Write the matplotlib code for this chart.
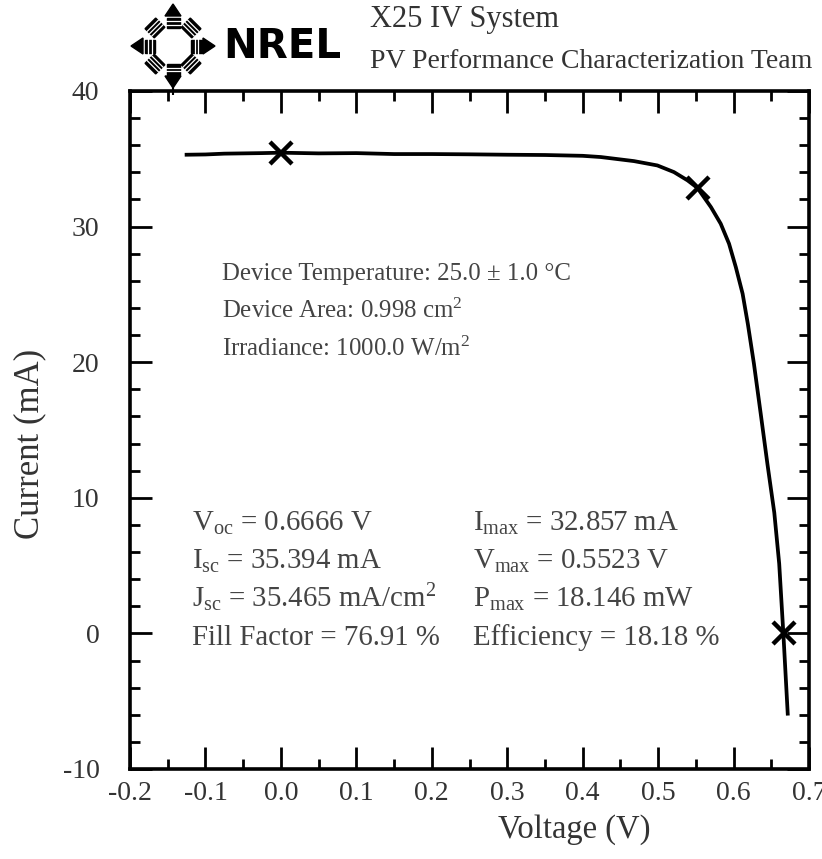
import matplotlib
matplotlib.use("Agg")
import matplotlib.pyplot as plt
from matplotlib.patches import Polygon
from matplotlib.ticker import MultipleLocator
import numpy as np

# ---------- Data ----------
voltage = [-0.125, -0.100, -0.075, -0.050, -0.025, 0.000, 0.050, 0.100, 0.150,
           0.200, 0.250, 0.300, 0.350, 0.400, 0.424, 0.468, 0.499, 0.521,
           0.539, 0.552, 0.570, 0.583, 0.594, 0.603, 0.612, 0.619, 0.627,
           0.636, 0.645, 0.654, 0.6605, 0.666, 0.6718]
current = [35.30, 35.32, 35.38, 35.40, 35.42, 35.45, 35.40, 35.42, 35.35,
           35.35, 35.33, 35.30, 35.28, 35.22, 35.13, 34.83, 34.51, 34.02,
           33.41, 32.86, 31.44, 30.21, 28.74, 27.01, 25.05, 22.80, 19.89,
           16.20, 12.45, 8.90, 5.14, 0.00, -5.92]

markV = [0.0, 0.5523, 0.6666]
markI = [35.394, 32.857, 0.0]

deviceLines = ["Device Temperature: 25.0 \u00b1 1.0 \u00b0C",
               "Device Area: 0.998 cm$\\mathrm{^2}$",
               "Irradiance: 1000.0 W/m$\\mathrm{^2}$"]
leftLines = ["V$\\mathrm{_{oc}}$ = 0.6666 V",
             "I$\\mathrm{_{sc}}$ = 35.394 mA",
             "J$\\mathrm{_{sc}}$ = 35.465 mA/cm$\\mathrm{^2}$",
             "Fill Factor = 76.91 %"]
rightLines = ["I$\\mathrm{_{max}}$ = 32.857 mA",
              "V$\\mathrm{_{max}}$ = 0.5523 V",
              "P$\\mathrm{_{max}}$ = 18.146 mW",
              "Efficiency = 18.18 %"]

# ---------- Style ----------
plt.rcParams['font.family'] = ['Liberation Serif', 'DejaVu Serif']
plt.rcParams['mathtext.fontset'] = 'custom'
plt.rcParams['mathtext.rm'] = 'Liberation Serif'
plt.rcParams['mathtext.it'] = 'Liberation Serif:italic'
plt.rcParams['mathtext.bf'] = 'Liberation Serif:bold'
plt.rcParams['axes.unicode_minus'] = False

W, H = 822, 859
fig = plt.figure(figsize=(W / 100, H / 100), dpi=100)

def px(x, y):
    return x / W, 1 - y / H

ax = fig.add_axes([130 / W, 1 - 769 / H, (809 - 130) / W, (769 - 91) / H])
ax.plot(voltage, current, color='black', lw=2.7)
ax.plot(markV, markI, ls='none', marker='x', color='black', ms=16, mew=3.2)

ax.set_xlim(-0.2, 0.7)
ax.set_ylim(-10, 40)
ax.xaxis.set_minor_locator(MultipleLocator(0.05))
ax.yaxis.set_major_locator(MultipleLocator(10))
ax.yaxis.set_minor_locator(MultipleLocator(2))
ax.set_xticks(np.arange(-0.2, 0.71, 0.1))
ax.set_xticklabels(["%.1f" % v for v in np.arange(-0.2, 0.71, 0.1)])
ax.tick_params(which='both', direction='in', top=True, right=True, width=2,
               labelsize=20, labelcolor='#333333')
ax.tick_params(which='major', length=16)
ax.tick_params(which='minor', length=7.5)
ax.tick_params(axis='x', pad=9)
ax.tick_params(axis='y', pad=22)
for s in ax.spines.values():
    s.set_linewidth(2.6)

# ---------- Text blocks ----------
for i, t in enumerate(deviceLines):
    x, y = px(222, 280 + 38 * i)
    fig.text(x, y, t, fontsize=17.9, color='#444444', va='baseline')
for i, t in enumerate(leftLines):
    x, y = px(192, 531 + 38 * i)
    fig.text(x, y, t, fontsize=20.8, color='#444444', va='baseline')
for i, t in enumerate(rightLines):
    x, y = px(473, 531 + 38 * i)
    fig.text(x, y, t, fontsize=20.8, color='#444444', va='baseline')

x, y = px(574, 830)
fig.text(x, y, "Voltage (V)", fontsize=23.5, color='#333333', ha='center', va='center')
x, y = px(30, 444)
fig.text(x, y, "Current (mA)", fontsize=25, color='#333333', ha='center', va='center',
         rotation=90)

# ---------- Header ----------
x, y = px(370, 20)
fig.text(x, y, "X25 IV System", fontsize=22, color='#333333', va='center')
x, y = px(370, 62)
fig.text(x, y, "PV Performance Characterization Team", fontsize=20, color='#333333',
         va='center')
x, y = px(223, 47)
fig.text(x, y, "NREL", fontsize=29, fontweight='heavy', family='DejaVu Sans',
         color='black', va='center')

# ---------- Logo ring ----------
lax = fig.add_axes([120 / W, 1 - 95 / H, 120 / W, 95 / H])
lax.set_xlim(0, 120)
lax.set_ylim(95, 0)
lax.axis('off')
cx, cy = 53, 46

def toAbs(pts, ang):
    a = np.radians(ang)
    out = []
    for u, r in pts:
        out.append((cx + u * np.cos(a) + r * np.sin(a), cy + u * np.sin(a) - r * np.cos(a)))
    return out

for k in range(8):
    ang = k * 45
    if k % 2 == 0:
        lax.add_patch(Polygon(toAbs([(-8, 30), (8, 30), (0, 42)], ang), color='black'))
        lax.add_patch(Polygon(toAbs([(-6.5, 18), (6.5, 18), (6.5, 28.5), (-6.5, 28.5)], ang), color='black'))
        stripes = [21.5, 25]
    else:
        lax.add_patch(Polygon(toAbs([(-7.5, 19), (7.5, 19), (7.5, 32), (-7.5, 32)], ang), color='black'))
        stripes = [22, 25.3, 28.6]
    for r in stripes:
        seg = toAbs([(-8, r), (8, r)], ang)
        lax.plot([seg[0][0], seg[1][0]], [seg[0][1], seg[1][1]], color='white', lw=0.9)
lax.plot([cx, cx], [86, 95], color='black', lw=1.5)

fig.savefig("out.png", dpi=100)
